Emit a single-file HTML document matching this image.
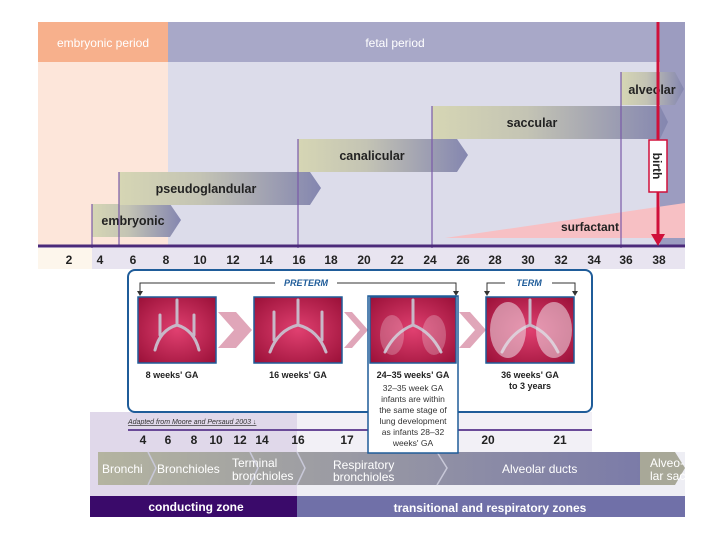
<!DOCTYPE html>
<html><head><meta charset="utf-8"><style>
body{margin:0;width:720px;height:540px;background:#fff;overflow:hidden;font-family:"Liberation Sans",sans-serif}
</style></head><body>
<svg width="720" height="540" viewBox="0 0 720 540" xmlns="http://www.w3.org/2000/svg" font-family="Liberation Sans, sans-serif">
<defs>
<linearGradient id="st" x1="0" x2="1"><stop offset="0" stop-color="#d6d6b4"/><stop offset="0.4" stop-color="#c4c4b4"/><stop offset="1" stop-color="#8486b0"/></linearGradient>
<linearGradient id="zn" x1="0" x2="1"><stop offset="0" stop-color="#b4b4a0"/><stop offset="1" stop-color="#7a7aa8"/></linearGradient>
<radialGradient id="lg" cx="0.5" cy="0.5" r="0.7"><stop offset="0" stop-color="#e04070"/><stop offset="1" stop-color="#9a1038"/></radialGradient>
</defs>
<rect x="38" y="22" width="130" height="40" fill="#f7b08c"/>
<rect x="168" y="22" width="517" height="40" fill="#a8a8c8"/>
<rect x="660" y="22" width="25" height="223" fill="#9c9cc0"/>
<text x="103" y="47" font-size="12" fill="#fff" text-anchor="middle">embryonic period</text>
<text x="395" y="47" font-size="12" fill="#fff" text-anchor="middle">fetal period</text>
<rect x="38" y="62" width="130" height="183" fill="#fde6da"/>
<rect x="168" y="62" width="492" height="183" fill="#dcdcea"/>
<polygon points="445,238 685,203 685,238" fill="#f7c0c4"/>
<text x="590" y="231" font-size="12" font-weight="bold" fill="#222" text-anchor="middle">surfactant</text>
<g font-size="12.5" font-weight="bold" fill="#222" text-anchor="middle">
<polygon points="92,204 170,204 181,220 170,237 92,237" fill="url(#st)"/>
<text x="133" y="225">embryonic</text>
<polygon points="119,172 310,172 321,188 310,205 119,205" fill="url(#st)"/>
<text x="206" y="193">pseudoglandular</text>
<polygon points="298,139 457,139 468,155 457,172 298,172" fill="url(#st)"/>
<text x="372" y="160">canalicular</text>
<polygon points="432,106 660,106 668,122 660,139 432,139" fill="url(#st)"/>
<text x="532" y="127">saccular</text>
<polygon points="621,72 675,72 684,89 675,105 621,105" fill="url(#st)"/>
<text x="652" y="94">alveolar</text></g>
<g stroke="#7a5aa8" stroke-width="1.2">
<line x1="92" y1="204" x2="92" y2="268"/><line x1="119" y1="172" x2="119" y2="245"/>
<line x1="298" y1="139" x2="298" y2="460"/><line x1="432" y1="106" x2="432" y2="460"/>
<line x1="621" y1="72" x2="621" y2="265"/></g>
<rect x="38" y="248" width="54" height="21" fill="#fdf6ec"/>
<rect x="92" y="248" width="593" height="21" fill="#e8e4f0"/>
<line x1="38" y1="246" x2="685" y2="246" stroke="#4b2a7a" stroke-width="3"/>
<g font-size="12" font-weight="bold" fill="#222" text-anchor="middle">
<text x="69" y="264">2</text><text x="100" y="264">4</text><text x="133" y="264">6</text><text x="166" y="264">8</text>
<text x="200" y="264">10</text><text x="233" y="264">12</text><text x="266" y="264">14</text><text x="299" y="264">16</text>
<text x="331" y="264">18</text><text x="364" y="264">20</text><text x="397" y="264">22</text><text x="430" y="264">24</text>
<text x="463" y="264">26</text><text x="495" y="264">28</text><text x="528" y="264">30</text><text x="561" y="264">32</text>
<text x="594" y="264">34</text><text x="626" y="264">36</text><text x="659" y="264">38</text></g>
<line x1="658" y1="22" x2="658" y2="236" stroke="#d0103a" stroke-width="3"/>
<polygon points="651,234 665,234 658,246" fill="#d0103a"/>
<rect x="649" y="140" width="18" height="52" fill="#fff" stroke="#d0103a" stroke-width="1.5"/>
<text transform="translate(653,166) rotate(90)" font-size="12" font-weight="bold" fill="#222" text-anchor="middle">birth</text>
<rect x="90" y="412" width="207" height="84" fill="#e0d8ea"/>
<rect x="297" y="412" width="295" height="40" fill="#f2f0f6"/>
<rect x="297" y="452" width="388" height="44" fill="#eeeef4"/>
<line x1="128" y1="430" x2="592" y2="430" stroke="#6a4a98" stroke-width="2"/>
<text x="128" y="424" font-size="7" fill="#333" font-style="italic" text-decoration="underline">Adapted from Moore and Persaud 2003 ↓</text>
<g font-size="12" font-weight="bold" fill="#222" text-anchor="middle">
<text x="143" y="444">4</text><text x="168" y="444">6</text><text x="194" y="444">8</text><text x="216" y="444">10</text>
<text x="240" y="444">12</text><text x="262" y="444">14</text><text x="298" y="444">16</text><text x="347" y="444">17</text>
<text x="488" y="444">20</text><text x="560" y="444">21</text></g>
<polygon points="98,452 640,452 650,468 640,485 98,485" fill="url(#zn)"/>
<polygon points="640,452 675,452 685,468 675,485 640,485" fill="#a8a898"/>
<g fill="none" stroke="#c8c8d8" stroke-width="1.5">
<polyline points="148,452 156,468 148,485"/><polyline points="250,452 258,468 250,485"/>
<polyline points="297,452 305,468 297,485"/><polyline points="437,452 447,468 437,485"/></g>
<g font-size="12" fill="#fff">
<text x="102" y="473">Bronchi</text><text x="157" y="473">Bronchioles</text>
<text x="232" y="467">Terminal</text><text x="232" y="480">bronchioles</text>
<text x="333" y="469">Respiratory</text><text x="333" y="481">bronchioles</text>
<text x="502" y="473">Alveolar ducts</text>
<text x="650" y="467">Alveo-</text><text x="650" y="480">lar sac</text></g>
<rect x="90" y="496" width="207" height="21" fill="#3a0a6a"/>
<rect x="297" y="496" width="388" height="21" fill="#7070a8"/>
<text x="196" y="511" font-size="12" font-weight="bold" fill="#fff" text-anchor="middle">conducting zone</text>
<text x="490" y="512" font-size="12" font-weight="bold" fill="#fff" text-anchor="middle">transitional and respiratory zones</text>
<rect x="128" y="270" width="464" height="142" rx="7" fill="#fff" stroke="#1f5c99" stroke-width="2"/>
<g stroke="#333" stroke-width="1" fill="none">
<polyline points="140,292 140,283 275,283"/><polyline points="337,283 456,283 456,292"/>
<polyline points="487,292 487,283 505,283"/><polyline points="552,283 575,283 575,292"/></g>
<g fill="#333"><polygon points="137,291 143,291 140,296"/><polygon points="453,291 459,291 456,296"/>
<polygon points="484,291 490,291 487,296"/><polygon points="572,291 578,291 575,296"/></g>
<text x="306" y="286" font-size="9" font-weight="bold" font-style="italic" fill="#1f5c99" text-anchor="middle">PRETERM</text>
<text x="529" y="286" font-size="9" font-weight="bold" font-style="italic" fill="#1f5c99" text-anchor="middle">TERM</text>
<g fill="#d890a8" opacity="0.8">
<polygon points="218,312 236,312 252,330 236,348 218,348 234,330"/>
<polygon points="344,312 352,312 368,330 352,348 344,348 360,330"/>
<polygon points="459,312 470,312 486,330 470,348 459,348 475,330"/></g>
<rect x="368" y="296" width="90" height="157" fill="#fff" stroke="#1f5c99" stroke-width="1.5"/>
<g stroke="#1f5c99" stroke-width="1.5">
<rect x="138" y="297" width="78" height="66" fill="url(#lg)"/>
<rect x="254" y="297" width="88" height="66" fill="url(#lg)"/>
<rect x="370" y="297" width="86" height="66" fill="url(#lg)"/>
<rect x="486" y="297" width="88" height="66" fill="url(#lg)"/></g>
<g stroke="#c8b8c8" stroke-width="3" fill="none" stroke-linecap="round">
<path d="M177,300 V325 M177,325 Q160,330 155,350 M177,325 Q194,330 199,350 M160,315 v20 M194,315 v20"/>
<path d="M298,300 V325 M298,325 Q278,330 270,352 M298,325 Q318,330 326,352 M274,312 v28 M322,312 v28"/>
<path d="M413,300 V325 M413,325 Q395,332 385,352 M413,325 Q431,332 441,352"/>
<path d="M530,300 V325 M530,325 Q512,332 502,352 M530,325 Q548,332 558,352"/></g>
<g fill="#f0e0e8" opacity="0.55"><ellipse cx="508" cy="330" rx="18" ry="28"/><ellipse cx="554" cy="330" rx="18" ry="28"/>
<ellipse cx="392" cy="335" rx="12" ry="20" opacity="0.5"/><ellipse cx="434" cy="335" rx="12" ry="20" opacity="0.5"/></g>
<g font-size="9" font-weight="bold" fill="#222" text-anchor="middle">
<text x="172" y="378">8 weeks' GA</text><text x="298" y="378">16 weeks' GA</text>
<text x="413" y="378">24–35 weeks' GA</text><text x="530" y="378">36 weeks' GA</text><text x="530" y="389">to 3 years</text></g>
<g font-size="8.5" fill="#333" text-anchor="middle">
<text x="413" y="391">32–35 week GA</text><text x="413" y="402">infants are within</text>
<text x="413" y="413">the same stage of</text><text x="413" y="424">lung development</text>
<text x="413" y="435">as infants 28–32</text><text x="413" y="446">weeks' GA</text></g>
</svg>
</body></html>
